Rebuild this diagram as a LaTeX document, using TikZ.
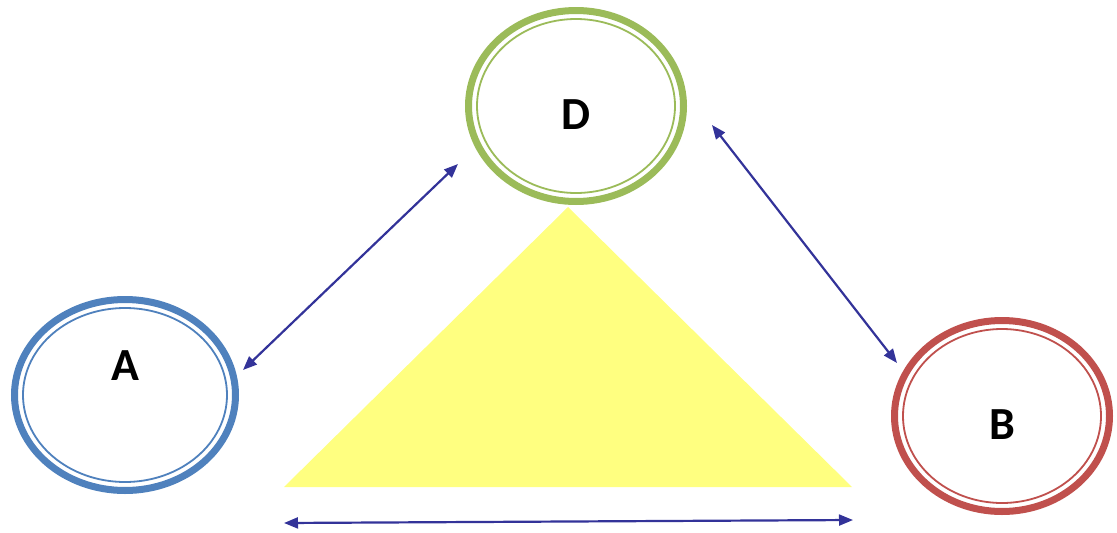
\documentclass[tikz,border=0pt]{standalone}
\usepackage{fontspec}
\setmainfont{Carlito}
\usetikzlibrary{arrows.meta,shapes.geometric}
\definecolor{cblue}{HTML}{4F81BD}
\definecolor{cgreen}{HTML}{9BBB59}
\definecolor{cred}{HTML}{C0504D}
\definecolor{carrow}{HTML}{333399}
\definecolor{cyel}{HTML}{FFFF80}
\tikzset{
  ring/.style={ellipse, line width=7pt, minimum width=221pt, minimum height=191pt, inner sep=0pt, fill=white},
  innerring/.style={line width=1.8pt},
  lbl/.style={font=\bfseries\fontsize{46}{46}\selectfont, text=black},
  link/.style={carrow, line width=2.2pt, {Triangle[length=14pt,width=11pt]}-{Triangle[length=14pt,width=11pt]}}
}
\begin{document}
\begin{tikzpicture}[x=1pt,y=-1pt]
\useasboundingbox (0,0) rectangle (1117,533);
% triangle
\fill[cyel] (568,207) -- (852,487) -- (284,487) -- cycle;
% ellipses
\node[ring, draw=cblue] (A) at (125,395) {};
\draw[cblue, innerring] (A.center) ellipse [x radius=102, y radius=87];
\node[lbl] (Al) at (125,366) {A};
\node[ring, draw=cgreen, minimum width=215pt, minimum height=191pt] (D) at (576,106) {};
\draw[cgreen, innerring] (D.center) ellipse [x radius=99, y radius=87];
\node[lbl] (Dl) at (576,115) {D};
\node[ring, draw=cred, minimum width=215pt, minimum height=191pt] (B) at (1002,416) {};
\draw[cred, innerring] (B.center) ellipse [x radius=99, y radius=87];
\node[lbl] (Bl) at (1002,425) {B};
% arrow endpoints
\coordinate (ad1) at (243,370);
\coordinate (ad2) at (458,164);
\coordinate (db1) at (712,125);
\coordinate (db2) at (897,363);
\coordinate (bt1) at (284,523);
\coordinate (bt2) at (853,520);
\draw[link] (ad1) -- (ad2);
\draw[link] (db1) -- (db2);
\draw[link] (bt1) -- (bt2);
\end{tikzpicture}
\end{document}
